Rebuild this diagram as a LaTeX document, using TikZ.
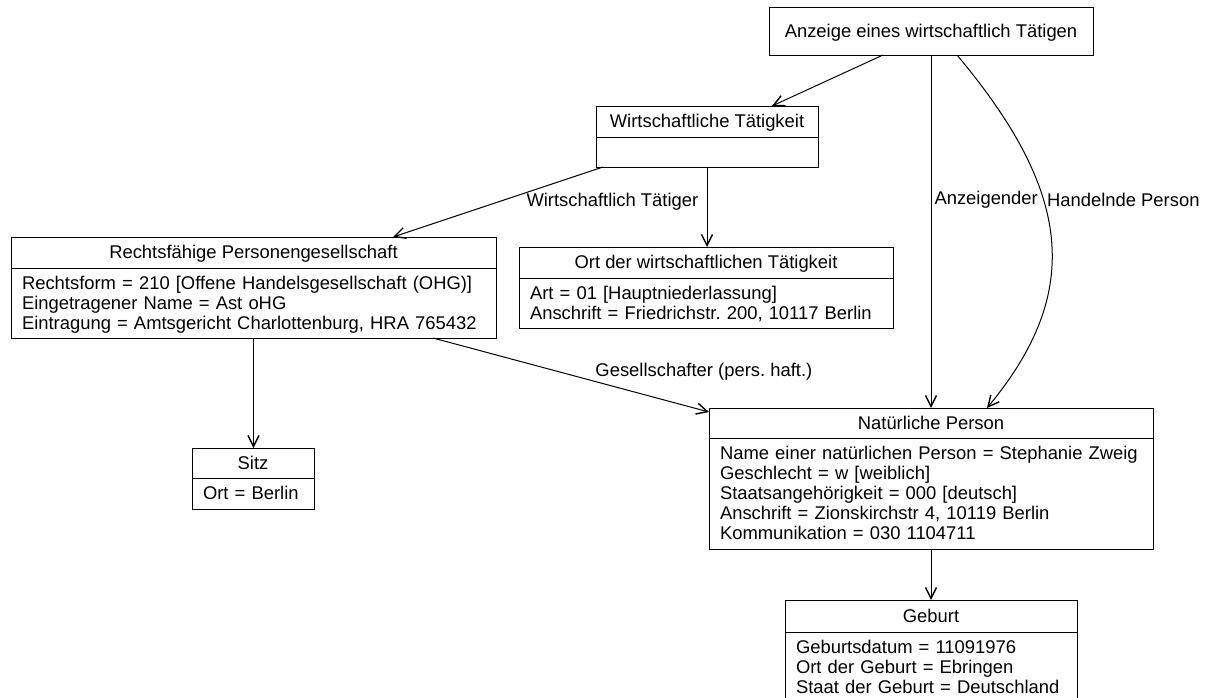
\documentclass[tikz,border=0pt]{standalone}
\usepackage{fontspec}
\setmainfont{Liberation Sans}
\usetikzlibrary{arrows.meta,positioning}

\newcommand\zs{\rule[-4pt]{0pt}{20pt}}
\frenchspacing

\begin{document}
\begin{tikzpicture}[x=1pt, y=-1pt,
    font=\fontsize{18.4}{20}\selectfont,
    head/.style={draw, line width=1pt, inner sep=0pt, outer sep=0pt, text height=13pt, text depth=0.6pt},
    attrs/.style={draw, line width=1pt, inner xsep=11pt, inner ysep=5pt, outer sep=0pt, align=left},
    assoc/.style={line width=1pt, -{Straight Barb[length=11pt,width=11pt,line width=1.4pt]}},
    lbl/.style={inner sep=0pt}]

\useasboundingbox (0,0) rectangle (1207,697);

% Top box
\node[head, minimum width=324, minimum height=48] (anz) at (931,31) {Anzeige eines wirtschaftlich Tätigen};

% Classes
\node[head, minimum width=222, minimum height=31] (wt) at (707,121.5) {Wirtschaftliche Tätigkeit};
\node[attrs, minimum width=222, minimum height=30, below=0pt of wt] (wtattr) {};

\node[head, minimum width=485, minimum height=31] (rpg) at (253.5,252.5) {Rechtsfähige Personengesellschaft};
\node[attrs, minimum width=485, minimum height=70, text width=463, below=0pt of rpg] (rpgattr)
    {\zs Rechtsform = 210 [Offene Handelsgesellschaft (OHG)]\\
     \zs Eingetragener Name = Ast oHG\\
     \zs Eintragung = Amtsgericht Charlottenburg, HRA 765432};

\node[head, minimum width=374, minimum height=31] (ort) at (706,262.5) {Ort der wirtschaftlichen Tätigkeit};
\node[attrs, minimum width=374, minimum height=50, text width=352, below=0pt of ort] (ortattr)
    {\zs Art = 01 [Hauptniederlassung]\\
     \zs Anschrift = Friedrichstr. 200, 10117 Berlin};

\node[head, minimum width=122, minimum height=30] (sitz) at (253,463) {Sitz};
\node[attrs, minimum width=122, minimum height=31, text width=100, below=0pt of sitz] (sitzattr)
    {\zs Ort = Berlin};

\node[head, minimum width=444, minimum height=30] (np) at (931,423) {Natürliche Person};
\node[attrs, minimum width=444, minimum height=111, text width=422, below=0pt of np] (npattr)
    {\zs Name einer natürlichen Person = Stephanie Zweig\\
     \zs Geschlecht = w [weiblich]\\
     \zs Staatsangehörigkeit = 000 [deutsch]\\
     \zs Anschrift = Zionskirchstr 4, 10119 Berlin\\
     \zs Kommunikation = 030 1104711};

\node[head, minimum width=292, minimum height=32] (geb) at (931,616) {Geburt};
\node[attrs, minimum width=292, minimum height=70, text width=270, below=0pt of geb] (gebattr)
    {\zs Geburtsdatum = 11091976\\
     \zs Ort der Geburt = Ebringen\\
     \zs Staat der Geburt = Deutschland};

% Associations
\draw[assoc] ([xshift=-48pt]anz.south) -- ([xshift=65pt]wt.north);
\draw[assoc] ([xshift=-104pt]wtattr.south) -- ([xshift=139.5pt]rpg.north)
    node[lbl, pos=0.5, anchor=west, xshift=28pt] (lwt) {Wirtschaftlich Tätiger};
\draw[assoc] (wtattr.south) -- (wtattr.south |- ort.north);
\draw[assoc] (anz.south) -- (np.north)
    node[lbl, pos=0.41, anchor=west, xshift=3pt] (lanz) {Anzeigender};
\draw[assoc] ([xshift=26pt]anz.south) .. controls +(113,135) and +(98,-118) .. ([xshift=56pt]np.north)
    node[lbl, pos=0.39, anchor=west, xshift=3pt] (lhp) {Handelnde Person};
\draw[assoc] (rpgattr.south) -- (rpgattr.south |- sitz.north);
\draw[assoc] ([xshift=179.5pt]rpgattr.south) -- ([yshift=-4pt]np.north west)
    node[lbl, pos=0.576, anchor=west, xshift=3pt, yshift=8.6pt] (lges) {Gesellschafter (pers. haft.)};
\draw[assoc] (npattr.south) -- (geb.north);

\end{tikzpicture}
\end{document}
